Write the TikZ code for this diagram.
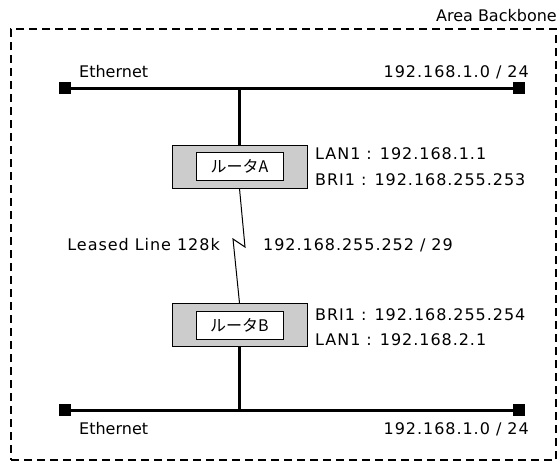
\documentclass[tikz,border=0pt]{standalone}
\usepackage{fontspec}
\setmainfont{DejaVu Sans}
\newfontfamily\addrfont{DejaVu Sans}[LetterSpace=6]
\newfontfamily\jpfont{Noto Sans CJK JP}
\usetikzlibrary{positioning, calc}
\def\ethL{64.5}
\def\ethR{519}
\def\ethTop{88}
\def\ethBot{410}
\def\rtX{239.5}

\begin{document}
\begin{tikzpicture}[
  x=1pt, y=-1pt,
  font=\fontsize{16}{19}\selectfont,
  lan/.style    = {line width=3pt},
  term/.style   = {fill=black, minimum size=12pt, inner sep=0pt},
  router/.style = {draw, line width=1pt, fill=black!20,
                   minimum width=135pt, minimum height=43pt, inner sep=0pt},
  rname/.style  = {draw, line width=1pt, fill=white,
                   minimum width=87pt, minimum height=28pt, inner sep=0pt,
                   font=\jpfont\fontsize{16}{19}\selectfont},
  serial/.style = {line width=1pt},
  area/.style   = {draw, line width=2pt, dash pattern=on 8pt off 5pt,
                   minimum width=545pt, minimum height=431pt, inner sep=0pt},
  lbl/.style    = {inner sep=0pt},
  addr/.style   = {inner sep=0pt, font=\addrfont\fontsize{16}{19}\selectfont},
]
\useasboundingbox (0,0) rectangle (560,461);

% ---------- backbone area ----------
\node[area] (bb) at (283.5,244.5) {};
\node[lbl, anchor=base east] (bb-name) at (557,21) {Area Backbone};

% ---------- ethernet segments ----------
\node[term] (lanA-l) at (\ethL,\ethTop) {};
\node[term] (lanA-r) at (\ethR,\ethTop) {};
\draw[lan] (lanA-l) -- (lanA-r);
\node[lbl,  anchor=base west] (lanA-name) at (79,77) {Ethernet};
\node[addr, anchor=base east] (lanA-net)  at (529,77) {192.168.1.0 / 24};

\node[term] (lanB-l) at (\ethL,\ethBot) {};
\node[term] (lanB-r) at (\ethR,\ethBot) {};
\draw[lan] (lanB-l) -- (lanB-r);
\node[lbl,  anchor=base west] (lanB-name) at (79,434) {Ethernet};
\node[addr, anchor=base east] (lanB-net)  at (529,434) {192.168.1.0 / 24};

% ---------- routers ----------
\node[router] (rtA) at (\rtX,166.5) {};
\node[rname]  (rtA-name) at (rtA) {ルータA};
\node[addr, anchor=base west] (rtA-lan) at (315,159) {LAN1 : 192.168.1.1};
\node[addr, anchor=base west] (rtA-bri) at (315,185) {BRI1 : 192.168.255.253};

\node[router] (rtB) at (\rtX,325) {};
\node[rname]  (rtB-name) at (rtB) {ルータB};
\node[addr, anchor=base west] (rtB-bri) at (315,320) {BRI1 : 192.168.255.254};
\node[addr, anchor=base west] (rtB-lan) at (315,345) {LAN1 : 192.168.2.1};

\coordinate (tapA) at (rtA.north |- lanA-l);
\coordinate (tapB) at (rtB.south |- lanB-l);
\draw[lan] (tapA) -- (rtA.north);
\draw[lan] (rtB.south) -- (tapB);

% ---------- leased line ----------
\coordinate (zig1) at (245,247);
\coordinate (zig2) at (233,239);
\draw[serial] (rtA.south) -- (zig1) -- (zig2) -- (rtB.north);
\node[addr, anchor=base east] (ll-name) at (220,250) {Leased Line 128k};
\node[addr, anchor=base west] (ll-net)  at (263,250) {192.168.255.252 / 29};

\end{tikzpicture}
\end{document}
